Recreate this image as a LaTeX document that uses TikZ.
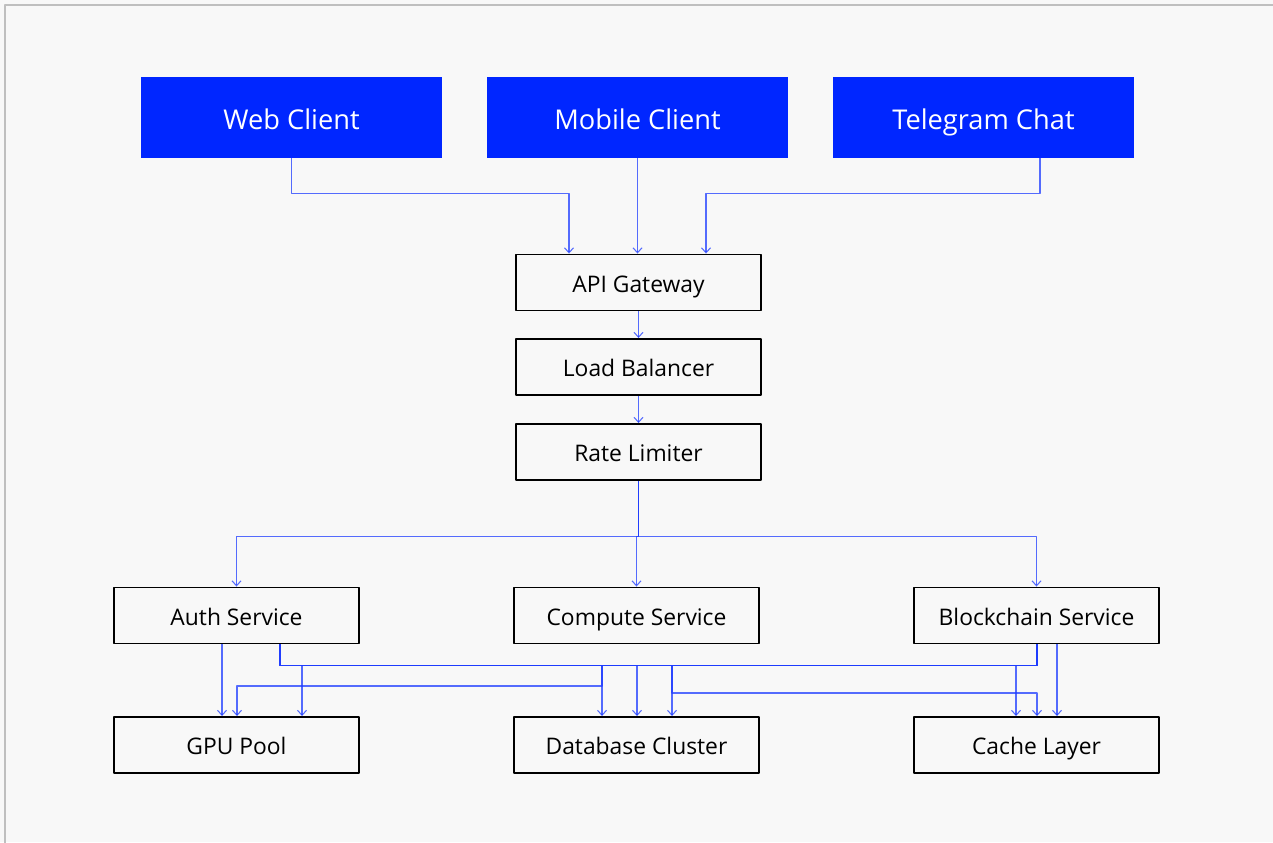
\documentclass[tikz,border=0pt]{standalone}
\usepackage{fontspec}
\setmainfont{Open Sans}
\usetikzlibrary{arrows.meta}
\definecolor{brand}{HTML}{0026FF}
\definecolor{wire}{HTML}{1E3CFF}
\definecolor{paper}{HTML}{F8F8F8}
\tikzset{
	client/.style={fill=brand, text=white, inner sep=0pt, text height=15pt, text depth=1.8pt, minimum width=6.02cm, minimum height=1.62cm, font=\fontsize{15.5}{19}\selectfont},
	block/.style={draw=black, fill=paper, line width=1.1pt, inner sep=0pt, text height=13pt, text depth=1.7pt, minimum width=4.9cm, minimum height=1.12cm, font=\fontsize{13}{16}\selectfont},
	link/.style={->, draw=wire, draw opacity=0.75, line width=0.6pt}
}
\begin{document}
\begin{tikzpicture}[x=0.02cm, y=-0.02cm, line join=round, >={Straight Barb[length=1mm,width=1.8mm]}]
	\useasboundingbox[fill=paper] (0,0) rectangle (1273,842);
	\clip (0,0) rectangle (1273,842);
	\draw[draw=black!25, line width=0.8pt] (5,5) rectangle (1300,870);
	\node[client] (web) at (291.5,117.5) {Web Client};
	\node[client] (mobile) at (637.5,117.5) {Mobile Client};
	\node[client] (telegram) at (983.5,117.5) {Telegram Chat};
	\node[block] (gateway) at (638.5,282.5) {API Gateway};
	\node[block] (balancer) at (638.5,367) {Load Balancer};
	\node[block] (limiter) at (638.5,452) {Rate Limiter};
	\node[block] (auth) at (236.5,615.5) {Auth Service};
	\node[block] (compute) at (636.5,615.5) {Compute Service};
	\node[block] (chain) at (1036.5,615.5) {Blockchain Service};
	\node[block] (gpu) at (236.5,745) {GPU Pool};
	\node[block] (db) at (636.5,745) {Database Cluster};
	\node[block] (cache) at (1036.5,745) {Cache Layer};
	\draw[link] (web.south) -- ++(0,35) -| (gateway.north -| 569,0);
	\draw[link] (mobile.south) -- (gateway.north -| mobile.south);
	\draw[link] (telegram.south -| 1040,0) -- ++(0,35) -| (gateway.north -| 706,0);
	\draw[link] (gateway) -- (balancer);
	\draw[link] (balancer) -- (limiter);
	\foreach \s in {auth,compute,chain}
		\draw[link] (limiter.south) -- ++(0,56) -| (\s.north);
	\draw[link] (auth.south -| 222,0) -- (gpu.north -| 222,0);
	\draw[link] (auth.south -| 280,0) -- ++(0,21) -| (cache.north -| 1016,0);
	\draw[link] (auth.south -| 280,0) -- ++(0,21) -| (db.north -| 637,0);
	\draw[link] (auth.south -| 280,0) -- ++(0,21) -| (602,686) -| (gpu.north -| 237,0);
	\draw[link] (chain.south -| 1037,0) -- ++(0,21) -| (gpu.north -| 302,0);
	\draw[link] (chain.south -| 1037,0) -- ++(0,21) -| (db.north -| 602,0);
	\draw[link] (chain.south -| 1037,0) -- ++(0,21) -| (db.north -| 672,0);
	\draw[link] (chain.south -| 1037,0) -- ++(0,21) -| (672,693) -| (cache.north -| 1037,0);
	\draw[link] (chain.south -| 1057,0) -- (cache.north -| 1057,0);
\end{tikzpicture}
\end{document}
